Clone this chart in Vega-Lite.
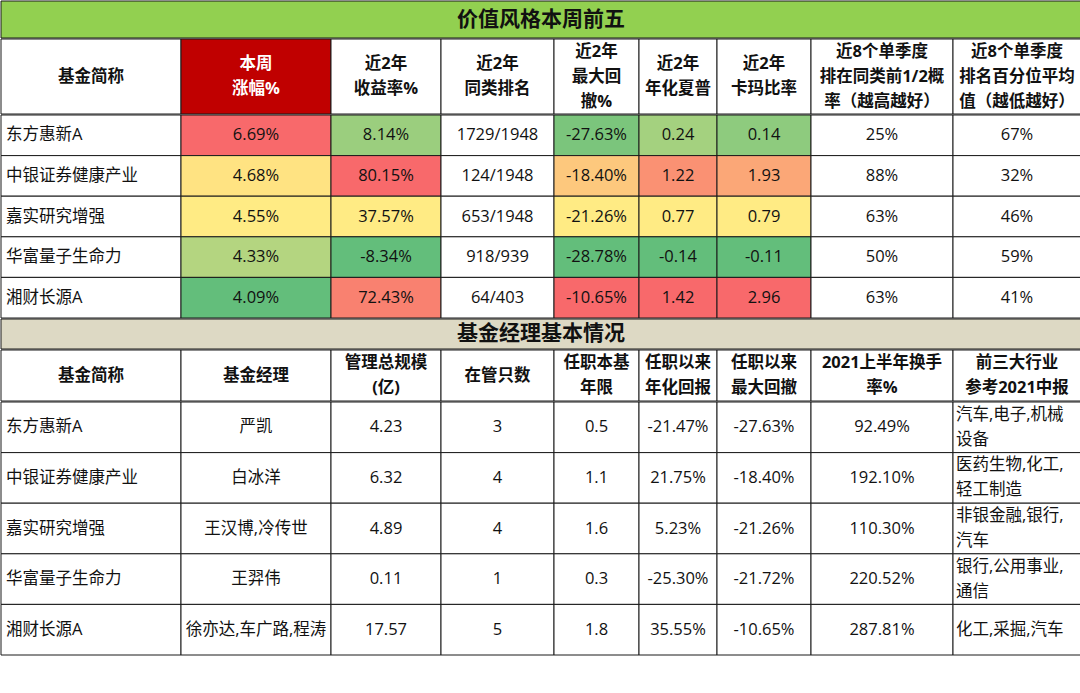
{
  "$schema": "https://vega.github.io/schema/vega-lite/v6.json",
  "background": "white",
  "padding": 0,
  "spacing": -4,
  "config": {
    "view": {"stroke": null},
    "concat": {"spacing": 0},
    "axis": {"disable": true},
    "legend": {"disable": true},
    "locale": {"number": {"decimal": ".", "thousands": ",", "grouping": [3], "currency": ["", ""], "minus": "-"}},
    "rect": {"stroke": "#1a1a1a", "strokeWidth": 1, "clip": true},
    "text": {"font": "Open Sans, Noto Sans CJK SC", "fontSize": 16.5, "lineHeight": 25, "lineBreak": "\n", "color": "#111111"}
  },
  "datasets": {
    "top": [
      {"fund": "东方惠新A", "wk": 0.0669, "ret": 0.0814, "rank": "1729/1948", "mdd": -0.2763, "sharpe": 0.24, "calmar": 0.14, "half": 0.25, "pct": 0.67},
      {"fund": "中银证券健康产业", "wk": 0.0468, "ret": 0.8015, "rank": "124/1948", "mdd": -0.1840, "sharpe": 1.22, "calmar": 1.93, "half": 0.88, "pct": 0.32},
      {"fund": "嘉实研究增强", "wk": 0.0455, "ret": 0.3757, "rank": "653/1948", "mdd": -0.2126, "sharpe": 0.77, "calmar": 0.79, "half": 0.63, "pct": 0.46},
      {"fund": "华富量子生命力", "wk": 0.0433, "ret": -0.0834, "rank": "918/939", "mdd": -0.2878, "sharpe": -0.14, "calmar": -0.11, "half": 0.50, "pct": 0.59},
      {"fund": "湘财长源A", "wk": 0.0409, "ret": 0.7243, "rank": "64/403", "mdd": -0.1065, "sharpe": 1.42, "calmar": 2.96, "half": 0.63, "pct": 0.41}
    ],
    "mgr": [
      {"fund": "东方惠新A", "mgr": "严凯", "aum": 4.23, "n": 3, "yrs": 0.5, "annret": -0.2147, "mdd": -0.2763, "turn": 0.9249, "ind": "汽车,电子,机械\n设备"},
      {"fund": "中银证券健康产业", "mgr": "白冰洋", "aum": 6.32, "n": 4, "yrs": 1.1, "annret": 0.2175, "mdd": -0.1840, "turn": 1.9210, "ind": "医药生物,化工,\n轻工制造"},
      {"fund": "嘉实研究增强", "mgr": "王汉博,冷传世", "aum": 4.89, "n": 4, "yrs": 1.6, "annret": 0.0523, "mdd": -0.2126, "turn": 1.1030, "ind": "非银金融,银行,\n汽车"},
      {"fund": "华富量子生命力", "mgr": "王羿伟", "aum": 0.11, "n": 1, "yrs": 0.3, "annret": -0.2530, "mdd": -0.2172, "turn": 2.2052, "ind": "银行,公用事业,\n通信"},
      {"fund": "湘财长源A", "mgr": "徐亦达,车广路,程涛", "aum": 17.57, "n": 5, "yrs": 1.8, "annret": 0.3555, "mdd": -0.1065, "turn": 2.8781, "ind": "化工,采掘,汽车"}
    ],
    "titles": [{"t1": "价值风格本周前五", "t2": "基金经理基本情况"}],
    "head1": [{"a": "基金简称", "b": "本周\n涨幅%", "c": "近2年\n收益率%", "d": "近2年\n同类排名", "e": "近2年\n最大回\n撤%", "f": "近2年\n年化夏普", "g": "近2年\n卡玛比率", "h": "近8个单季度\n排在同类前1/2概\n率（越高越好）", "i": "近8个单季度\n排名百分位平均\n值（越低越好）"}],
    "head2": [{"a": "基金简称", "b": "基金经理", "c": "管理总规模\n(亿)", "d": "在管只数", "e": "任职本基\n年限", "f": "任职以来\n年化回报", "g": "任职以来\n最大回撤", "h": "2021上半年换手\n率%", "i": "前三大行业\n参考2021中报"}]
  },
  "vconcat": [
    {
      "width": 1080, "height": 37,
      "data": {"name": "titles"},
      "layer": [
        {"mark": {"type": "rect", "fill": "#92D050"}, "encoding": {}},
        {"mark": {"type": "text", "fontSize": 21, "fontWeight": "bold"}, "encoding": {"text": {"field": "t1"}}}
      ]
    },
    {
      "data": {"name": "head1"},
      "spacing": 0, "bounds": "flush",
      "hconcat": [
        {"width": 180, "height": 75, "layer": [{"mark": {"type": "rect", "fill": "#fff"}, "encoding": {}}, {"mark": {"type": "text", "fontWeight": "bold"}, "encoding": {"text": {"field": "a"}}}]},
        {"width": 150, "height": 75, "layer": [{"mark": {"type": "rect", "fill": "#C00000"}, "encoding": {}}, {"mark": {"type": "text", "fontWeight": "bold", "color": "#ffffff", "dy": -12.5}, "encoding": {"text": {"field": "b"}}}]},
        {"width": 110, "height": 75, "layer": [{"mark": {"type": "rect", "fill": "#fff"}, "encoding": {}}, {"mark": {"type": "text", "fontWeight": "bold", "dy": -12.5}, "encoding": {"text": {"field": "c"}}}]},
        {"width": 113, "height": 75, "layer": [{"mark": {"type": "rect", "fill": "#fff"}, "encoding": {}}, {"mark": {"type": "text", "fontWeight": "bold", "dy": -12.5}, "encoding": {"text": {"field": "d"}}}]},
        {"width": 85, "height": 75, "layer": [{"mark": {"type": "rect", "fill": "#fff"}, "encoding": {}}, {"mark": {"type": "text", "fontWeight": "bold", "dy": -25}, "encoding": {"text": {"field": "e"}}}]},
        {"width": 78, "height": 75, "layer": [{"mark": {"type": "rect", "fill": "#fff"}, "encoding": {}}, {"mark": {"type": "text", "fontWeight": "bold", "dy": -12.5}, "encoding": {"text": {"field": "f"}}}]},
        {"width": 94, "height": 75, "layer": [{"mark": {"type": "rect", "fill": "#fff"}, "encoding": {}}, {"mark": {"type": "text", "fontWeight": "bold", "dy": -12.5}, "encoding": {"text": {"field": "g"}}}]},
        {"width": 142, "height": 75, "layer": [{"mark": {"type": "rect", "fill": "#fff"}, "encoding": {}}, {"mark": {"type": "text", "fontWeight": "bold", "dy": -25}, "encoding": {"text": {"field": "h"}}}]},
        {"width": 128, "height": 75, "layer": [{"mark": {"type": "rect", "fill": "#fff"}, "encoding": {}}, {"mark": {"type": "text", "fontWeight": "bold", "dy": -25}, "encoding": {"text": {"field": "i"}}}]}
      ]
    },
    {
      "data": {"name": "top"},
      "spacing": 0, "bounds": "flush",
      "resolve": {"scale": {"color": "independent"}},
      "hconcat": [
        {"width": 180, "height": 203, "layer": [
          {"mark": {"type": "rect", "fill": "#fff"}, "encoding": {"y": {"field": "fund", "type": "nominal", "sort": null}}},
          {"mark": {"type": "text", "align": "left", "dx": -85}, "encoding": {"y": {"field": "fund", "type": "nominal", "sort": null}, "text": {"field": "fund"}}}
        ]},
        {"width": 150, "height": 203, "layer": [
          {"mark": "rect", "encoding": {"y": {"field": "fund", "type": "nominal", "sort": null}, "color": {"field": "wk", "type": "quantitative", "scale": {"type": "linear", "domain": [0.0409, 0.0455, 0.0669], "range": ["#63BE7B", "#FFEB84", "#F8696B"], "interpolate": "rgb", "nice": false, "zero": false}}}},
          {"mark": "text", "encoding": {"y": {"field": "fund", "type": "nominal", "sort": null}, "text": {"field": "wk", "type": "quantitative", "format": ".2%"}}}
        ]},
        {"width": 110, "height": 203, "layer": [
          {"mark": "rect", "encoding": {"y": {"field": "fund", "type": "nominal", "sort": null}, "color": {"field": "ret", "type": "quantitative", "scale": {"type": "linear", "domain": [-0.0834, 0.3757, 0.8015], "range": ["#63BE7B", "#FFEB84", "#F8696B"], "interpolate": "rgb", "nice": false, "zero": false}}}},
          {"mark": "text", "encoding": {"y": {"field": "fund", "type": "nominal", "sort": null}, "text": {"field": "ret", "type": "quantitative", "format": ".2%"}}}
        ]},
        {"width": 113, "height": 203, "layer": [
          {"mark": {"type": "rect", "fill": "#fff"}, "encoding": {"y": {"field": "fund", "type": "nominal", "sort": null}}},
          {"mark": "text", "encoding": {"y": {"field": "fund", "type": "nominal", "sort": null}, "text": {"field": "rank"}}}
        ]},
        {"width": 85, "height": 203, "layer": [
          {"mark": "rect", "encoding": {"y": {"field": "fund", "type": "nominal", "sort": null}, "color": {"field": "mdd", "type": "quantitative", "scale": {"type": "linear", "domain": [-0.2878, -0.2126, -0.1065], "range": ["#63BE7B", "#FFEB84", "#F8696B"], "interpolate": "rgb", "nice": false, "zero": false}}}},
          {"mark": "text", "encoding": {"y": {"field": "fund", "type": "nominal", "sort": null}, "text": {"field": "mdd", "type": "quantitative", "format": ".2%"}}}
        ]},
        {"width": 78, "height": 203, "layer": [
          {"mark": "rect", "encoding": {"y": {"field": "fund", "type": "nominal", "sort": null}, "color": {"field": "sharpe", "type": "quantitative", "scale": {"type": "linear", "domain": [-0.14, 0.77, 1.42], "range": ["#63BE7B", "#FFEB84", "#F8696B"], "interpolate": "rgb", "nice": false, "zero": false}}}},
          {"mark": "text", "encoding": {"y": {"field": "fund", "type": "nominal", "sort": null}, "text": {"field": "sharpe", "type": "quantitative", "format": ".2f"}}}
        ]},
        {"width": 94, "height": 203, "layer": [
          {"mark": "rect", "encoding": {"y": {"field": "fund", "type": "nominal", "sort": null}, "color": {"field": "calmar", "type": "quantitative", "scale": {"type": "linear", "domain": [-0.11, 0.79, 2.96], "range": ["#63BE7B", "#FFEB84", "#F8696B"], "interpolate": "rgb", "nice": false, "zero": false}}}},
          {"mark": "text", "encoding": {"y": {"field": "fund", "type": "nominal", "sort": null}, "text": {"field": "calmar", "type": "quantitative", "format": ".2f"}}}
        ]},
        {"width": 142, "height": 203, "layer": [
          {"mark": {"type": "rect", "fill": "#fff"}, "encoding": {"y": {"field": "fund", "type": "nominal", "sort": null}}},
          {"mark": "text", "encoding": {"y": {"field": "fund", "type": "nominal", "sort": null}, "text": {"field": "half", "type": "quantitative", "format": ".0%"}}}
        ]},
        {"width": 128, "height": 203, "layer": [
          {"mark": {"type": "rect", "fill": "#fff"}, "encoding": {"y": {"field": "fund", "type": "nominal", "sort": null}}},
          {"mark": "text", "encoding": {"y": {"field": "fund", "type": "nominal", "sort": null}, "text": {"field": "pct", "type": "quantitative", "format": ".0%"}}}
        ]}
      ]
    },
    {
      "width": 1080, "height": 30,
      "data": {"name": "titles"},
      "layer": [
        {"mark": {"type": "rect", "fill": "#DDD9C4"}, "encoding": {}},
        {"mark": {"type": "text", "fontSize": 21, "fontWeight": "bold"}, "encoding": {"text": {"field": "t2"}}}
      ]
    },
    {
      "data": {"name": "head2"},
      "spacing": 0, "bounds": "flush",
      "hconcat": [
        {"width": 180, "height": 51, "layer": [{"mark": {"type": "rect", "fill": "#fff"}, "encoding": {}}, {"mark": {"type": "text", "fontWeight": "bold"}, "encoding": {"text": {"field": "a"}}}]},
        {"width": 150, "height": 51, "layer": [{"mark": {"type": "rect", "fill": "#fff"}, "encoding": {}}, {"mark": {"type": "text", "fontWeight": "bold"}, "encoding": {"text": {"field": "b"}}}]},
        {"width": 110, "height": 51, "layer": [{"mark": {"type": "rect", "fill": "#fff"}, "encoding": {}}, {"mark": {"type": "text", "fontWeight": "bold", "dy": -12.5}, "encoding": {"text": {"field": "c"}}}]},
        {"width": 113, "height": 51, "layer": [{"mark": {"type": "rect", "fill": "#fff"}, "encoding": {}}, {"mark": {"type": "text", "fontWeight": "bold"}, "encoding": {"text": {"field": "d"}}}]},
        {"width": 85, "height": 51, "layer": [{"mark": {"type": "rect", "fill": "#fff"}, "encoding": {}}, {"mark": {"type": "text", "fontWeight": "bold", "dy": -12.5}, "encoding": {"text": {"field": "e"}}}]},
        {"width": 78, "height": 51, "layer": [{"mark": {"type": "rect", "fill": "#fff"}, "encoding": {}}, {"mark": {"type": "text", "fontWeight": "bold", "dy": -12.5}, "encoding": {"text": {"field": "f"}}}]},
        {"width": 94, "height": 51, "layer": [{"mark": {"type": "rect", "fill": "#fff"}, "encoding": {}}, {"mark": {"type": "text", "fontWeight": "bold", "dy": -12.5}, "encoding": {"text": {"field": "g"}}}]},
        {"width": 142, "height": 51, "layer": [{"mark": {"type": "rect", "fill": "#fff"}, "encoding": {}}, {"mark": {"type": "text", "fontWeight": "bold", "dy": -12.5}, "encoding": {"text": {"field": "h"}}}]},
        {"width": 128, "height": 51, "layer": [{"mark": {"type": "rect", "fill": "#fff"}, "encoding": {}}, {"mark": {"type": "text", "fontWeight": "bold", "dy": -12.5}, "encoding": {"text": {"field": "i"}}}]}
      ]
    },
    {
      "data": {"name": "mgr"},
      "spacing": 0, "bounds": "flush",
      "hconcat": [
        {"width": 180, "height": 253, "layer": [
          {"mark": {"type": "rect", "fill": "#fff"}, "encoding": {"y": {"field": "fund", "type": "nominal", "sort": null}}},
          {"mark": {"type": "text", "align": "left", "dx": -85}, "encoding": {"y": {"field": "fund", "type": "nominal", "sort": null}, "text": {"field": "fund"}}}
        ]},
        {"width": 150, "height": 253, "layer": [
          {"mark": {"type": "rect", "fill": "#fff"}, "encoding": {"y": {"field": "fund", "type": "nominal", "sort": null}}},
          {"mark": "text", "encoding": {"y": {"field": "fund", "type": "nominal", "sort": null}, "text": {"field": "mgr"}}}
        ]},
        {"width": 110, "height": 253, "layer": [
          {"mark": {"type": "rect", "fill": "#fff"}, "encoding": {"y": {"field": "fund", "type": "nominal", "sort": null}}},
          {"mark": "text", "encoding": {"y": {"field": "fund", "type": "nominal", "sort": null}, "text": {"field": "aum", "type": "quantitative", "format": ".2f"}}}
        ]},
        {"width": 113, "height": 253, "layer": [
          {"mark": {"type": "rect", "fill": "#fff"}, "encoding": {"y": {"field": "fund", "type": "nominal", "sort": null}}},
          {"mark": "text", "encoding": {"y": {"field": "fund", "type": "nominal", "sort": null}, "text": {"field": "n", "type": "quantitative", "format": "d"}}}
        ]},
        {"width": 85, "height": 253, "layer": [
          {"mark": {"type": "rect", "fill": "#fff"}, "encoding": {"y": {"field": "fund", "type": "nominal", "sort": null}}},
          {"mark": "text", "encoding": {"y": {"field": "fund", "type": "nominal", "sort": null}, "text": {"field": "yrs", "type": "quantitative", "format": ".1f"}}}
        ]},
        {"width": 78, "height": 253, "layer": [
          {"mark": {"type": "rect", "fill": "#fff"}, "encoding": {"y": {"field": "fund", "type": "nominal", "sort": null}}},
          {"mark": "text", "encoding": {"y": {"field": "fund", "type": "nominal", "sort": null}, "text": {"field": "annret", "type": "quantitative", "format": ".2%"}}}
        ]},
        {"width": 94, "height": 253, "layer": [
          {"mark": {"type": "rect", "fill": "#fff"}, "encoding": {"y": {"field": "fund", "type": "nominal", "sort": null}}},
          {"mark": "text", "encoding": {"y": {"field": "fund", "type": "nominal", "sort": null}, "text": {"field": "mdd", "type": "quantitative", "format": ".2%"}}}
        ]},
        {"width": 142, "height": 253, "layer": [
          {"mark": {"type": "rect", "fill": "#fff"}, "encoding": {"y": {"field": "fund", "type": "nominal", "sort": null}}},
          {"mark": "text", "encoding": {"y": {"field": "fund", "type": "nominal", "sort": null}, "text": {"field": "turn", "type": "quantitative", "format": ".2%"}}}
        ]},
        {"width": 128, "height": 253, "layer": [
          {"mark": {"type": "rect", "fill": "#fff"}, "encoding": {"y": {"field": "fund", "type": "nominal", "sort": null}}},
          {"transform": [{"filter": "indexof(datum.ind, '\\n') >= 0"}], "mark": {"type": "text", "align": "left", "dx": -61, "dy": -12.5}, "encoding": {"y": {"field": "fund", "type": "nominal", "sort": null}, "text": {"field": "ind"}}},
          {"transform": [{"filter": "indexof(datum.ind, '\\n') < 0"}], "mark": {"type": "text", "align": "left", "dx": -61}, "encoding": {"y": {"field": "fund", "type": "nominal", "sort": null}, "text": {"field": "ind"}}}
        ]}
      ]
    }
  ]
}
